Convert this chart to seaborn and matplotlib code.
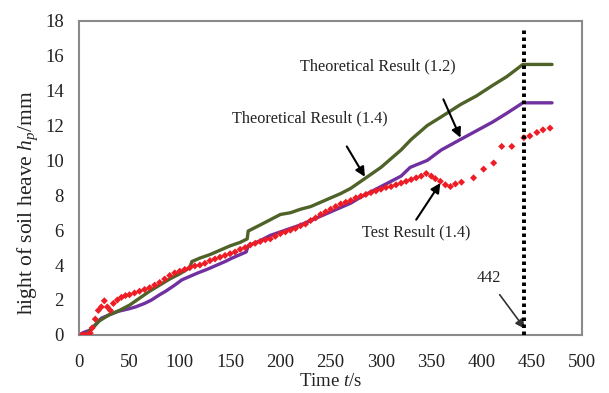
import numpy as np
import pandas as pd
import matplotlib
matplotlib.use("Agg")
import matplotlib.pyplot as plt
import seaborn as sns

# ---------------- data ----------------
theo12_t = [5, 10, 15, 20, 30, 40, 50, 60, 70, 80, 90, 100, 110, 112, 120, 130, 140, 150, 160, 167, 168,
            180, 190, 200, 210, 220, 230, 240, 250, 260, 270, 280, 290, 300, 312, 320, 330, 346, 360, 379,
            395, 411, 425, 441, 470]
theo12_v = [0.0, 0.2, 0.5, 0.8, 1.15, 1.4, 1.7, 2.1, 2.5, 2.85, 3.2, 3.5, 3.85, 4.2, 4.4, 4.6, 4.85, 5.1, 5.3, 5.5, 5.95,
            6.3, 6.6, 6.9, 7.0, 7.2, 7.35, 7.6, 7.85, 8.1, 8.4, 8.8, 9.2, 9.6, 10.2, 10.6, 11.2, 12.0, 12.5, 13.2,
            13.7, 14.3, 14.8, 15.5, 15.5]

theo14_t = [0, 5, 10, 15, 22, 30, 39, 50, 56, 65, 72, 80, 86, 95, 102, 110, 118, 127, 135, 145, 152, 160, 166, 168,
            180, 190, 200, 210, 220, 230, 240, 250, 260, 270, 280, 290, 300, 310, 320, 329, 346, 360, 379, 395,
            411, 425, 441, 470]
theo14_v = [0.0, 0.15, 0.25, 0.5, 0.95, 1.15, 1.35, 1.5, 1.6, 1.8, 2.0, 2.3, 2.5, 2.85, 3.15, 3.35, 3.55, 3.75, 3.95,
            4.2, 4.4, 4.6, 4.75, 5.1, 5.4, 5.7, 5.9, 6.1, 6.3, 6.55, 6.8, 7.05, 7.3, 7.55, 7.9, 8.2, 8.5, 8.8, 9.1,
            9.6, 10.0, 10.6, 11.2, 11.7, 12.2, 12.7, 13.3, 13.3]

test_t = [3, 5, 7, 9, 11, 13, 16, 19, 22, 25, 28, 31, 34, 38, 42, 46, 50, 55, 60, 65, 70, 75, 80, 85, 90, 95, 100,
          105, 110, 115, 120, 125, 130, 135, 140, 145, 150, 155, 160, 165, 170, 175, 180, 185, 190, 195, 200, 205,
          210, 215, 220, 225, 230, 235, 240, 245, 250, 255, 260, 265, 270, 275, 280, 285, 290, 295, 300, 305, 310,
          315, 320, 325, 330, 335, 340, 345, 350, 354, 359, 364, 369, 374, 380, 392, 402, 412, 420, 430, 442, 448,
          455, 461, 468]
test_v = [0.0, -0.05, 0.0, 0.0, 0.1, 0.4, 0.9, 1.4, 1.6, 1.95, 1.6, 1.4, 1.8, 2.0, 2.15, 2.25, 2.3, 2.4, 2.5, 2.6, 2.7,
          2.85, 3.0, 3.2, 3.4, 3.55, 3.65, 3.75, 3.85, 3.95, 4.0, 4.1, 4.25, 4.35, 4.45, 4.55, 4.65, 4.75, 4.9, 5.0,
          5.15, 5.25, 5.35, 5.45, 5.5, 5.65, 5.8, 5.9, 6.0, 6.1, 6.25, 6.35, 6.55, 6.7, 6.9, 7.05, 7.2, 7.35, 7.5,
          7.6, 7.7, 7.85, 7.95, 8.05, 8.15, 8.25, 8.35, 8.45, 8.5, 8.6, 8.7, 8.8, 8.9, 9.0, 9.1, 9.25, 9.1, 8.95,
          8.8, 8.6, 8.5, 8.65, 8.75, 9.0, 9.5, 9.85, 10.8, 10.8, 11.3, 11.4, 11.6, 11.75, 11.85]

x_ticks = [0, 50, 100, 150, 200, 250, 300, 350, 400, 450, 500]
y_ticks = [0, 2, 4, 6, 8, 10, 12, 14, 16, 18]
t_marker = 442

# ---------------- style ----------------
sns.set_theme(style="white")
plt.rcParams['font.family'] = ['Liberation Serif', 'DejaVu Serif']
plt.rcParams['mathtext.fontset'] = 'custom'
plt.rcParams['mathtext.rm'] = 'Liberation Serif'
plt.rcParams['mathtext.it'] = 'Liberation Serif:italic'

fig = plt.figure(figsize=(6.09, 3.93), dpi=100)
ax = fig.add_axes([0.130, 0.148, 0.826, 0.799])

df12 = pd.DataFrame({"t": theo12_t, "v": theo12_v})
df14 = pd.DataFrame({"t": theo14_t, "v": theo14_v})
dft = pd.DataFrame({"t": test_t, "v": test_v})

sns.lineplot(data=df14, x="t", y="v", ax=ax, color="#7030a0", lw=2.4)
sns.lineplot(data=df12, x="t", y="v", ax=ax, color="#4f6228", lw=2.4)
sns.scatterplot(data=dft, x="t", y="v", ax=ax, color="#ee1c25", marker="D", s=13, edgecolor="none", zorder=4)

ax.plot([t_marker, t_marker], [0, 17.65], color="black", lw=2.8, linestyle=(0, (0.9, 0.9)), zorder=5)

ax.set_xlim(0, 500)
ax.set_ylim(0, 18)
ax.set_xticks(x_ticks)
ax.set_yticks(y_ticks)
ax.tick_params(axis='both', direction='in', length=5, width=1, color='#909090',
               labelsize=13.5, labelcolor='#222222')
ax.tick_params(axis='x', pad=14)
ax.tick_params(axis='y', pad=11)
for s in ax.spines.values():
    s.set_color('#8a8a8a')
    s.set_linewidth(1.5)
ax.set_xlabel("Time $t$/s", fontsize=13.5, color='#222222', labelpad=1.5)
ax.set_ylabel("hight of soil heave $h_p$/mm", fontsize=15.5, color='#222222')
ax.yaxis.set_label_coords(-0.078, 0.42)

tk = dict(fontsize=11.7, color='#222222', ha='center', va='center')
ap = dict(arrowstyle='-|>', color='black', lw=1.5, mutation_scale=14, shrinkA=0, shrinkB=0)
ax.text(297, 15.4, "Theoretical Result (1.2)", **tk)
ax.text(229, 12.4, "Theoretical Result (1.4)", **tk)
ax.annotate("", xy=(284, 9.06), xytext=(266, 10.8), arrowprops=ap)
ax.annotate("", xy=(379, 11.3), xytext=(362, 13.5), arrowprops=ap)
ax.text(335, 5.9, "Test Result (1.4)", **tk)
ax.annotate("", xy=(359, 8.7), xytext=(335, 6.6), arrowprops=ap)
ax.text(407, 3.25, "442", **tk)
ax.annotate("", xy=(443, 0.35), xytext=(418, 2.3), arrowprops=dict(arrowstyle='-|>', color='#333333', lw=1.2,
                                                                    mutation_scale=14, shrinkA=0, shrinkB=0))

fig.savefig("out.png", dpi=100)
